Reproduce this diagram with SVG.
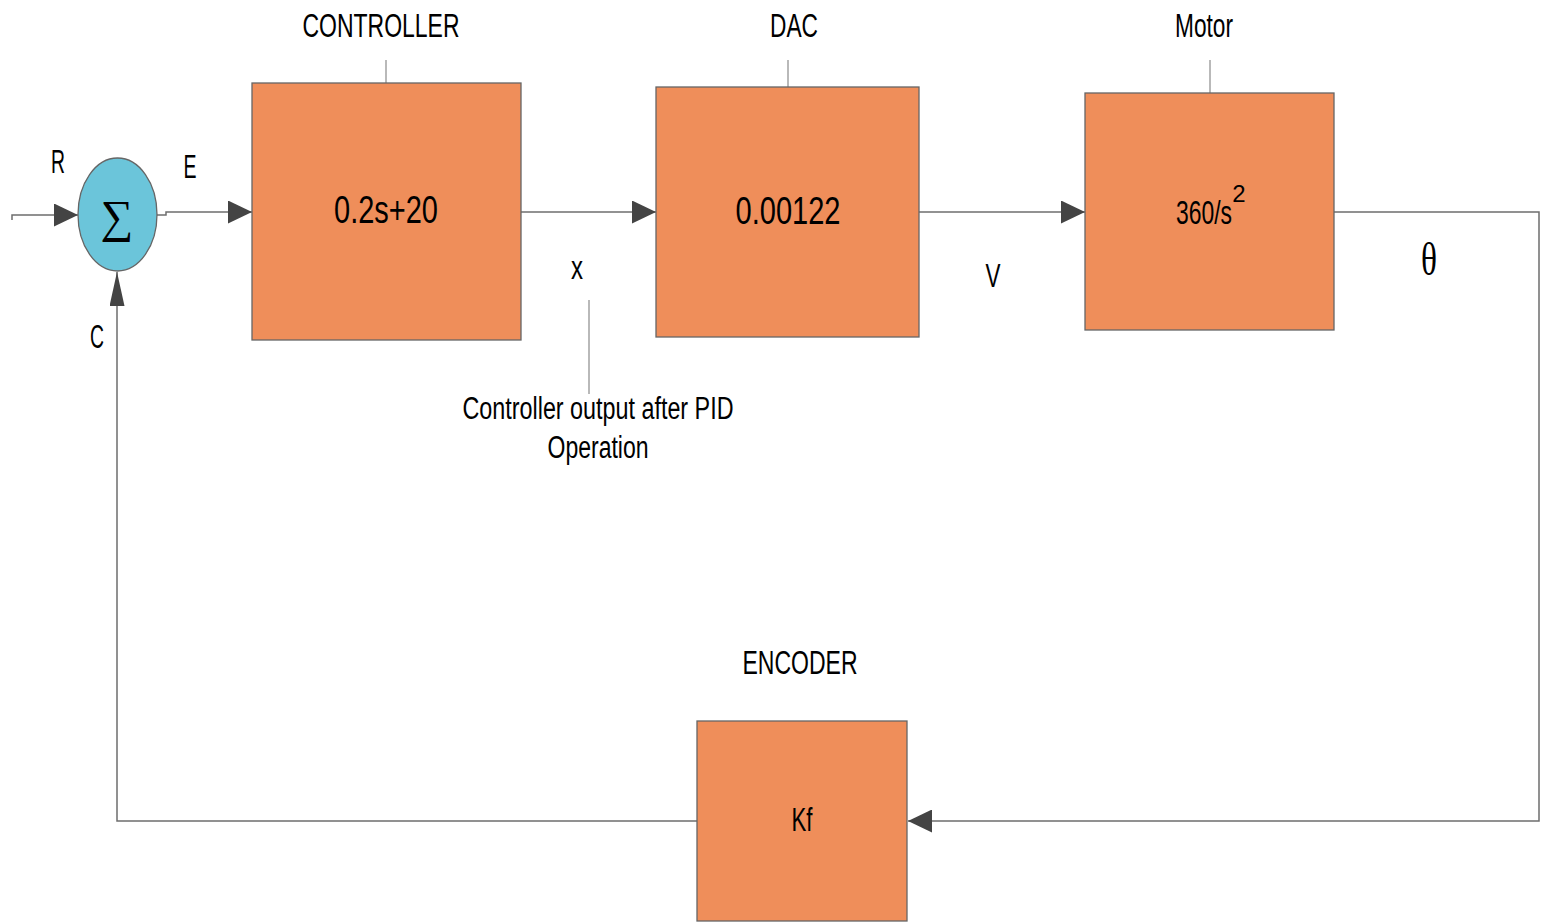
<svg xmlns="http://www.w3.org/2000/svg" width="1546" height="922" viewBox="0 0 1546 922">
  <style>
    .blk { fill: #EF8E5A; stroke: #666666; stroke-width: 1.3; }
    .sum { fill: #6BC5DA; stroke: #666666; stroke-width: 1.3; }
    .wire { fill: none; stroke: #6E6E6E; stroke-width: 1.5; }
    .lead { fill: none; stroke: #8A8A8A; stroke-width: 1.2; }
    .t { font-family: "Liberation Sans Narrow", "Liberation Sans", Arial, sans-serif; fill: #000; text-anchor: middle; }
    .big { font-size: 39px; }
    .lbl { font-size: 33px; }
    .note { font-size: 31px; }
    .sym { font-family: "Liberation Serif", "DejaVu Serif", serif; fill: #000; text-anchor: middle; }
  </style>
  <defs>
    <marker id="arr" viewBox="0 0 24 23" refX="24" refY="11.5" markerWidth="24" markerHeight="23" orient="auto" markerUnits="userSpaceOnUse">
      <path d="M0,0 L24,11.5 L0,23 Z" fill="#444444"/>
    </marker>
    <marker id="arrLong" viewBox="0 0 34 15" refX="34" refY="7.5" markerWidth="34" markerHeight="15" orient="auto" markerUnits="userSpaceOnUse">
      <path d="M0,0 L34,7.5 L0,15 Z" fill="#444444"/>
    </marker>
  </defs>

  <!-- signal lines -->
  <g id="connectors">
    <path class="wire" d="M12,220 L12,215 L78,215" marker-end="url(#arr)"/>
    <path class="wire" d="M157,215 L166,215 L166,212 L252,212" marker-end="url(#arr)"/>
    <path class="wire" d="M521,212 L656,212" marker-end="url(#arr)"/>
    <path class="wire" d="M919,212 L1085,212" marker-end="url(#arr)"/>
    <path class="wire" d="M1334,212 L1539,212 L1539,821 L908,821" marker-end="url(#arr)"/>
    <path class="wire" d="M697,821 L117,821 L117,272" marker-end="url(#arrLong)"/>
    <!-- leader lines to the captions -->
    <path class="lead" d="M386,83 L386,60"/>
    <path class="lead" d="M788,87 L788,60"/>
    <path class="lead" d="M1210,93 L1210,60"/>
    <path class="lead" d="M589,300 L589,394"/>
  </g>

  <!-- summing junction -->
  <g id="sum">
    <ellipse class="sum" cx="117.5" cy="214.5" rx="39.5" ry="56.5"/>
    <text class="sym" x="117" y="232" font-size="46">∑</text>
  </g>

  <g id="controller">
    <rect class="blk" x="252" y="83" width="269" height="257"/>
    <text class="t big" x="386" y="223" textLength="104" lengthAdjust="spacingAndGlyphs">0.2s+20</text>
    <text class="t lbl" x="381" y="37" textLength="157" lengthAdjust="spacingAndGlyphs">CONTROLLER</text>
  </g>

  <g id="dac">
    <rect class="blk" x="656" y="87" width="263" height="250"/>
    <text class="t big" x="788" y="224" textLength="105" lengthAdjust="spacingAndGlyphs">0.00122</text>
    <text class="t lbl" x="794" y="37" textLength="48" lengthAdjust="spacingAndGlyphs">DAC</text>
  </g>

  <g id="motor">
    <rect class="blk" x="1085" y="93" width="249" height="237"/>
    <text class="t" font-size="33"><tspan x="1204" y="224" textLength="56" lengthAdjust="spacingAndGlyphs">360/s</tspan><tspan x="1239" y="202" font-size="24">2</tspan></text>
    <text class="t lbl" x="1204" y="37" textLength="58" lengthAdjust="spacingAndGlyphs">Motor</text>
  </g>

  <g id="encoder">
    <rect class="blk" x="697" y="721" width="210" height="200"/>
    <text class="t" x="802" y="831" font-size="33" textLength="21" lengthAdjust="spacingAndGlyphs">Kf</text>
    <text class="t lbl" x="800" y="674" textLength="115" lengthAdjust="spacingAndGlyphs">ENCODER</text>
  </g>

  <!-- signal names -->
  <g id="labels">
    <text class="t lbl" x="58" y="173" textLength="14" lengthAdjust="spacingAndGlyphs">R</text>
    <text class="t lbl" x="190" y="178" textLength="13" lengthAdjust="spacingAndGlyphs">E</text>
    <text class="t lbl" x="97" y="348" textLength="14" lengthAdjust="spacingAndGlyphs">C</text>
    <text class="t lbl" x="577" y="279" textLength="12" lengthAdjust="spacingAndGlyphs">x</text>
    <text class="t lbl" x="993" y="287" textLength="15" lengthAdjust="spacingAndGlyphs">V</text>
    <text class="sym" x="1429" y="275" font-size="46" textLength="16" lengthAdjust="spacingAndGlyphs">θ</text>
    <text class="t note" x="598" y="419" textLength="271" lengthAdjust="spacingAndGlyphs">Controller output after PID</text>
    <text class="t note" x="598" y="458" textLength="101" lengthAdjust="spacingAndGlyphs">Operation</text>
  </g>
</svg>
